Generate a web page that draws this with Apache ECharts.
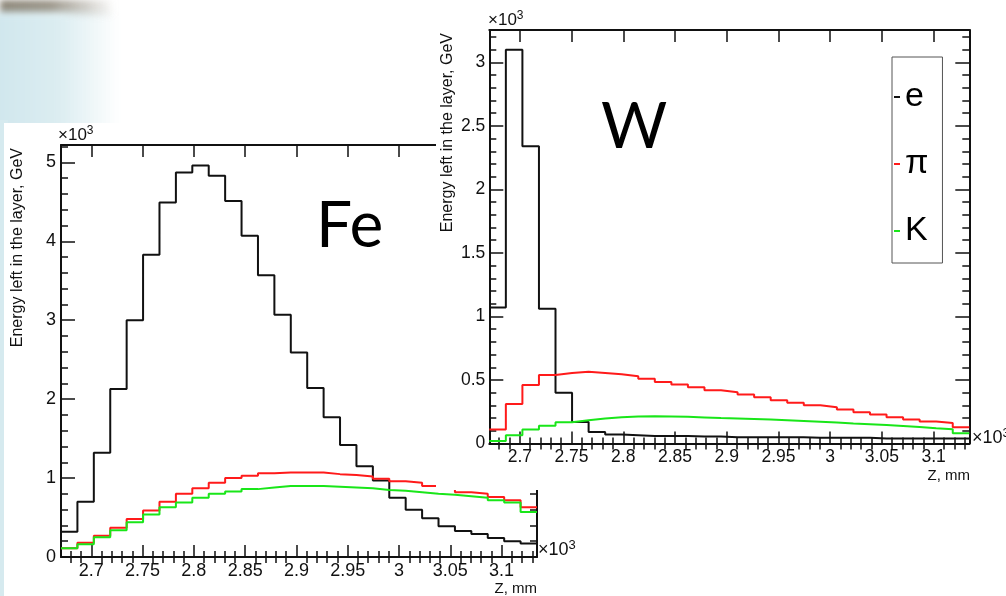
<!DOCTYPE html>
<html>
<head>
<meta charset="utf-8">
<script src="https://cdn.jsdelivr.net/npm/echarts@6.0.0/dist/echarts.min.js"></script>
<style>
html, body { margin: 0; padding: 0; }
body { width: 1006px; height: 596px; position: relative; overflow: hidden; background: #fff; }
#bg-top { position: absolute; left: 0; top: 0; width: 130px; height: 16px;
  background: linear-gradient(to right, rgba(120,112,95,0.85) 0px, rgba(120,112,95,0.75) 50px, rgba(255,255,255,0) 115px); filter: blur(3px); }
#bg-blue { position: absolute; left: -10px; top: 12px; width: 140px; height: 120px;
  background: linear-gradient(to right, #cfe6ed 0px, #dcedf1 70px, rgba(255,255,255,0) 130px); filter: blur(4px); }
#bg-strip { position: absolute; left: 0; top: 120px; width: 8px; height: 476px; background: #d6eaef; }
#fe { position: absolute; left: 4px; top: 123px; width: 602px; height: 473px; background: #fff; }
#w { position: absolute; left: 436px; top: 0; width: 570px; height: 490px; background: #fff; z-index: 2; }
</style>
</head>
<body>
<div id="bg-top"></div>
<div id="bg-blue"></div>
<div id="bg-strip"></div>
<div id="fe"></div>
<div id="w"></div>
<script>
var FONT = '"Liberation Sans", Arial, sans-serif';

// binning: 29 bins of 16 mm (axis in units of 10^3 mm)
var binStart = 2.6705;
var binWidth = 0.016;
var nBins = 29;

// Fe
var feE  = [0.32, 0.70, 1.32, 2.13, 3.00, 3.83, 4.49, 4.87, 4.96, 4.83, 4.51, 4.07, 3.57, 3.07, 2.59,
            2.14, 1.77, 1.42, 1.15, 0.97, 0.75, 0.60, 0.49, 0.39, 0.33, 0.29, 0.24, 0.20, 0.17];
var fePi = [0.11, 0.18, 0.27, 0.37, 0.48, 0.59, 0.70, 0.80, 0.87, 0.94, 1.00, 1.03, 1.06, 1.07, 1.07,
            1.07, 1.05, 1.04, 1.02, 0.99, 0.96, 0.94, 0.90, 0.86, 0.82, 0.80, 0.76, 0.72, 0.63];
var feK  = [0.11, 0.16, 0.25, 0.34, 0.44, 0.54, 0.63, 0.69, 0.75, 0.80, 0.83, 0.86, 0.88, 0.90, 0.90,
            0.90, 0.89, 0.88, 0.87, 0.85, 0.84, 0.82, 0.80, 0.79, 0.77, 0.75, 0.72, 0.69, 0.57];

// W
var wE  = [1.07, 3.10, 2.34, 1.06, 0.40, 0.17, 0.09, 0.07, 0.065, 0.06, 0.06, 0.06, 0.055, 0.055, 0.05,
           0.05, 0.05, 0.05, 0.05, 0.045, 0.045, 0.045, 0.045, 0.04, 0.04, 0.04, 0.04, 0.04, 0.04];
var wPi = [0.11, 0.31, 0.46, 0.54, 0.555, 0.565, 0.555, 0.545, 0.53, 0.51, 0.485, 0.464, 0.443, 0.419, 0.404,
           0.385, 0.364, 0.341, 0.32, 0.301, 0.286, 0.267, 0.246, 0.228, 0.207, 0.189, 0.173, 0.162, 0.128];
var wK  = [0.02, 0.065, 0.11, 0.14, 0.168, 0.183, 0.197, 0.207, 0.213, 0.215, 0.213, 0.21, 0.205, 0.2, 0.197,
           0.193, 0.188, 0.183, 0.178, 0.172, 0.165, 0.158, 0.152, 0.146, 0.138, 0.13, 0.12, 0.112, 0.08];

var seriesNames = ['e', 'π', 'K'];
var seriesColors = ['#111111', '#ff1a1a', '#19e619'];

var xMajor = [2.7, 2.75, 2.8, 2.85, 2.9, 2.95, 3, 3.05, 3.1];
var feYMajor = [0, 1, 2, 3, 4, 5];
var wYMajor = [0, 0.5, 1, 1.5, 2, 2.5, 3];
var feYMax = 5.22;
var wYMax = 3.255;

var edges = [];
for (var i = 0; i <= nBins; i++) edges.push(+(binStart + i * binWidth).toFixed(4));
var xMin = edges[0], xMax = edges[nBins];

function minorList(kFrom, kTo, div, every) {
    var out = [];
    for (var k = kFrom; k <= kTo; k++) {
        if (k % every) out.push(k / div);
    }
    return out;
}
var xMinor = minorList(268, 313, 100, 5);
var feYMinor = minorList(0, 26, 5, 5);
var wYMinor = minorList(0, 32, 10, 5);

function histPoints(values) {
    var pts = values.map(function (v, i) { return [edges[i], v]; });
    pts.push([edges[nBins], values[values.length - 1]]);
    return pts;
}

var tickLine = {color: '#111', width: 1.5};
var frameLine = {color: '#111', width: 2};

function axisPair(pos, min, max, major, minor, majorLen, minorLen, label) {
    var base = {type: 'value', min: min, max: max, position: pos, splitLine: {show: false}};
    var a = Object.assign({}, base, {
        axisLine: {show: true, onZero: false, lineStyle: frameLine},
        axisTick: {show: true, inside: true, length: majorLen, customValues: major, lineStyle: tickLine},
        axisLabel: label ? Object.assign({show: true, customValues: major, color: '#111', fontFamily: FONT}, label)
                         : {show: false}
    });
    var b = Object.assign({}, base, {
        axisLine: {show: false},
        axisTick: {show: true, inside: true, length: minorLen, customValues: minor, lineStyle: tickLine},
        axisLabel: {show: false}
    });
    return [a, b];
}

function buildOption(cfg) {
    var xAxes = axisPair('bottom', xMin, xMax, xMajor, xMinor, 12, 6, {fontSize: cfg.labelSize, margin: cfg.xMargin})
        .concat(axisPair('top', xMin, xMax, xMajor, xMinor, 12, 6, null));
    var yAxes = axisPair('left', 0, cfg.yMax, cfg.yMajor, cfg.yMinor, 14, 7, {fontSize: cfg.labelSize, margin: cfg.yMargin})
        .concat(axisPair('right', 0, cfg.yMax, cfg.yMajor, cfg.yMinor, 14, 7, null));
    var series = cfg.data.map(function (vals, i) {
        return {
            type: 'line',
            name: seriesNames[i],
            step: 'end',
            showSymbol: false,
            symbol: 'none',
            data: histPoints(vals),
            color: seriesColors[i],
            lineStyle: {color: seriesColors[i], width: 2},
            z: 3 + i
        };
    });
    return {
        animation: false,
        backgroundColor: '#fff',
        textStyle: {fontFamily: FONT},
        grid: Object.assign({containLabel: false, outerBoundsMode: 'none'}, cfg.grid),
        xAxis: xAxes,
        yAxis: yAxes,
        series: series,
        graphic: cfg.graphic,
        legend: cfg.legend || {show: false}
    };
}

function txt(x, y, text, size, extra) {
    return {
        type: 'text', x: x, y: y, silent: true, z: 20,
        rotation: extra && extra.rotation || 0,
        style: Object.assign({text: text, fontSize: size, fontFamily: FONT, fill: '#111',
            textAlign: 'left', textVerticalAlign: 'middle'}, extra && extra.style)
    };
}

// "x10^3" with a real-looking superscript
function times10(x, y, size) {
    return txt(x, y, '×10{s|3}', size, {style: {
        rich: {s: {fontSize: Math.round(size * 0.7), fontFamily: FONT, fill: '#111', padding: [0, 0, size * 0.55, 0]}}
    }});
}

var feChart = echarts.init(document.getElementById('fe'));
feChart.setOption(buildOption({
    grid: {left: 57, top: 22, width: 476, height: 412},
    yMax: feYMax, yMajor: feYMajor, yMinor: feYMinor,
    labelSize: 18, xMargin: 5, yMargin: 5,
    data: [feE, fePi, feK],
    graphic: [
        times10(54, 12, 17),
        times10(534, 427, 18),
        txt(533, 466, 'Z, mm', 15, {style: {textAlign: 'right'}}),
        txt(14, 25, 'Energy left in the layer, GeV', 16, {rotation: Math.PI / 2, style: {textAlign: 'right'}}),
        txt(312, 103, 'Fe', 64, {style: {fontFamily: 'Lato, "Open Sans", sans-serif', fill: '#000'}})
    ]
}));

var wChart = echarts.init(document.getElementById('w'));
wChart.setOption(buildOption({
    grid: {left: 53.3, top: 30, width: 480, height: 413.5},
    yMax: wYMax, yMajor: wYMajor, yMinor: wYMinor,
    labelSize: 17.5, xMargin: 4.5, yMargin: 4,
    data: [wE, wPi, wK],
    graphic: [
        times10(52, 20, 17),
        times10(536, 438, 18),
        txt(534, 475.5, 'Z, mm', 15, {style: {textAlign: 'right'}}),
        txt(11.5, 33, 'Energy left in the layer, GeV', 16, {rotation: Math.PI / 2, style: {textAlign: 'right'}}),
        txt(165, 127.5, 'W', 64, {style: {fontFamily: 'Lato, "Open Sans", sans-serif', fill: '#000'}})
    ],
    legend: {
        show: true,
        orient: 'vertical',
        left: 456, top: 57,
        data: seriesNames,
        icon: 'rect',
        itemWidth: 6, itemHeight: 2, itemGap: 33,
        padding: [23, 14, 15, 2],
        borderColor: '#555', borderWidth: 1, borderRadius: 0,
        backgroundColor: '#fff',
        selectedMode: false,
        textStyle: {fontSize: 34, fontFamily: FONT, color: '#000'}
    }
}));
</script>
</body>
</html>
